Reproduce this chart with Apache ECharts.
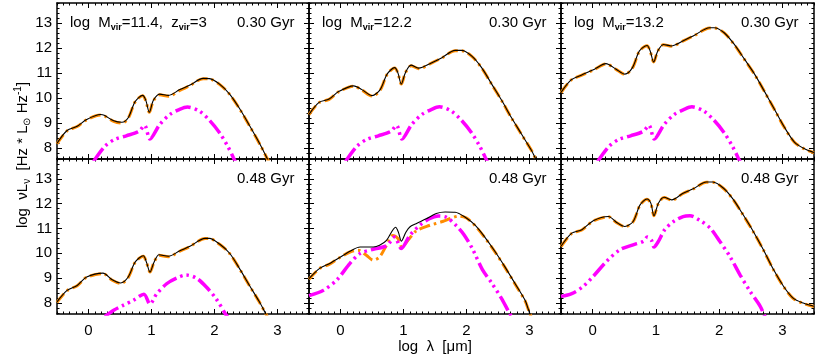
<!DOCTYPE html>
<html><head><meta charset="utf-8">
<script src="https://cdn.jsdelivr.net/npm/echarts@6/dist/echarts.min.js"></script>
<style>html,body{margin:0;padding:0;background:#fff}#c{width:830px;height:356px}</style>
</head><body><div id="c"></div>
<script>
// ---------- tick labels ----------
const xMajorTicks = [0, 1, 2, 3];
const yMajorTicks = [8, 9, 10, 11, 12, 13];
const xRange = [-0.5, 3.5];
const yRange = [7.55, 13.8];

// ---------- panel texts ----------
const panelMass = ['11.4', '12.2', '13.2', null, null, null];
const panelAge = ['0.30 Gyr', '0.30 Gyr', '0.30 Gyr', '0.48 Gyr', '0.48 Gyr', '0.48 Gyr'];

// ---------- panel 1 (top left) ----------
const p1TotalX = [-0.5, -0.34, -0.18, -0.03, 0.19, 0.25, 0.40, 0.53, 0.63, 0.74, 0.86, 0.91, 0.965, 1.03, 1.13, 1.27, 1.45, 1.61, 1.82, 1.92, 2.08, 2.24, 2.40, 2.56, 2.72, 2.84, 2.90];
const p1TotalY = [8.18, 8.69, 8.86, 9.13, 9.33, 9.30, 9.08, 9.02, 9.20, 9.85, 10.10, 9.90, 9.42, 9.90, 10.15, 10.10, 10.33, 10.51, 10.78, 10.77, 10.55, 10.15, 9.56, 8.87, 8.15, 7.55, 7.25];
const p1OrangeY = [8.16, 8.68, 8.85, 9.12, 9.31, 9.28, 9.06, 8.99, 9.18, 9.84, 10.08, 9.88, 9.42, 9.88, 10.12, 10.06, 10.30, 10.49, 10.77, 10.76, 10.54, 10.14, 9.55, 8.86, 8.14, 7.55, 7.25];
const p1MagentaX = [0.08, 0.26, 0.42, 0.60, 0.80, 0.89, 0.975, 1.13, 1.29, 1.44, 1.57, 1.76, 1.92, 2.08, 2.21, 2.30, 2.36];
const p1MagentaY = [7.45, 8.06, 8.34, 8.48, 8.66, 8.90, 8.35, 8.93, 9.33, 9.53, 9.63, 9.47, 9.10, 8.60, 8.06, 7.60, 7.30];

// ---------- panel 2 (top middle) ----------
const p2TotalX = [-0.5, -0.34, -0.18, -0.03, 0.21, 0.34, 0.50, 0.63, 0.74, 0.86, 0.91, 0.965, 1.03, 1.12, 1.24, 1.45, 1.61, 1.82, 1.92, 2.08, 2.24, 2.40, 2.56, 2.71, 2.87, 3.03, 3.10, 3.16];
const p2TotalY = [9.34, 9.82, 9.95, 10.25, 10.48, 10.33, 10.09, 10.33, 10.95, 11.21, 11.01, 10.55, 11.01, 11.31, 11.19, 11.41, 11.61, 11.90, 11.90, 11.68, 11.21, 10.55, 9.89, 9.22, 8.56, 7.90, 7.55, 7.30];
const p2OrangeY = [9.33, 9.81, 9.94, 10.24, 10.47, 10.31, 10.07, 10.31, 10.94, 11.20, 11.00, 10.55, 11.00, 11.29, 11.17, 11.40, 11.60, 11.89, 11.89, 11.67, 11.20, 10.54, 9.88, 9.21, 8.55, 7.90, 7.55, 7.30];
const p2MagentaX = [0.08, 0.26, 0.42, 0.60, 0.80, 0.89, 0.975, 1.13, 1.29, 1.44, 1.57, 1.76, 1.92, 2.08, 2.21, 2.30, 2.36];
const p2MagentaY = [7.45, 8.06, 8.34, 8.48, 8.66, 8.90, 8.35, 8.93, 9.33, 9.53, 9.64, 9.47, 9.10, 8.60, 8.06, 7.60, 7.30];

// ---------- panel 3 (top right) ----------
const p3TotalX = [-0.5, -0.34, -0.18, 0.03, 0.21, 0.37, 0.51, 0.63, 0.74, 0.86, 0.91, 0.965, 1.03, 1.12, 1.24, 1.45, 1.61, 1.85, 1.92, 2.08, 2.24, 2.40, 2.56, 2.71, 2.87, 3.03, 3.19, 3.35, 3.5];
const p3TotalY = [10.22, 10.72, 10.91, 11.15, 11.37, 11.15, 10.95, 11.21, 11.88, 12.10, 11.88, 11.44, 11.88, 12.14, 12.08, 12.31, 12.51, 12.81, 12.81, 12.61, 12.14, 11.55, 10.95, 10.29, 9.56, 8.83, 8.23, 7.96, 7.81];
const p3OrangeY = [10.21, 10.71, 10.90, 11.14, 11.36, 11.14, 10.94, 11.20, 11.87, 12.09, 11.87, 11.44, 11.87, 12.13, 12.07, 12.30, 12.50, 12.80, 12.80, 12.60, 12.13, 11.54, 10.94, 10.28, 9.55, 8.82, 8.22, 7.95, 7.80];
const p3MagentaX = [0.08, 0.26, 0.42, 0.60, 0.80, 0.89, 0.975, 1.13, 1.29, 1.44, 1.57, 1.76, 1.92, 2.08, 2.21, 2.30, 2.36];
const p3MagentaY = [7.45, 8.06, 8.34, 8.48, 8.66, 8.90, 8.35, 8.93, 9.33, 9.53, 9.64, 9.47, 9.10, 8.60, 8.06, 7.60, 7.30];

// ---------- panel 4 (bottom left) ----------
const p4TotalX = [-0.5, -0.34, -0.18, -0.03, 0.23, 0.37, 0.51, 0.63, 0.74, 0.87, 0.92, 0.976, 1.04, 1.12, 1.27, 1.45, 1.61, 1.85, 1.92, 2.08, 2.24, 2.40, 2.56, 2.71, 2.82, 2.88];
const p4TotalY = [8.04, 8.50, 8.70, 9.04, 9.20, 8.94, 8.80, 9.04, 9.64, 9.90, 9.64, 9.24, 9.64, 9.94, 9.88, 10.10, 10.28, 10.60, 10.60, 10.37, 10.00, 9.37, 8.68, 8.05, 7.53, 7.25];
const p4OrangeY = [8.02, 8.49, 8.69, 9.03, 9.18, 8.92, 8.78, 9.02, 9.63, 9.88, 9.63, 9.24, 9.63, 9.92, 9.86, 10.08, 10.27, 10.59, 10.59, 10.36, 9.99, 9.36, 8.67, 8.04, 7.53, 7.25];
const p4MagentaX = [0.26, 0.40, 0.55, 0.71, 0.88, 0.975, 1.08, 1.24, 1.40, 1.55, 1.71, 1.87, 2.03, 2.18, 2.25];
const p4MagentaY = [7.45, 7.70, 7.90, 8.10, 8.35, 7.95, 8.35, 8.77, 9.00, 9.12, 9.00, 8.64, 8.15, 7.53, 7.30];

// ---------- panel 5 (bottom middle) ----------
const p5TotalX = [-0.5, -0.33, -0.17, 0.02, 0.18, 0.31, 0.52, 0.62, 0.73, 0.875, 0.92, 0.965, 1.04, 1.10, 1.20, 1.36, 1.52, 1.66, 1.82, 1.98, 2.14, 2.29, 2.45, 2.61, 2.77, 2.93, 3.0, 3.05];
const p5TotalY = [8.98, 9.39, 9.59, 9.88, 10.12, 10.25, 10.25, 10.32, 10.52, 11.05, 10.84, 10.49, 10.86, 11.06, 11.19, 11.39, 11.60, 11.66, 11.65, 11.45, 11.12, 10.65, 10.08, 9.45, 8.78, 8.10, 7.60, 7.30];
const p5OrangeX = [-0.5, -0.33, -0.18, -0.03, 0.15, 0.28, 0.41, 0.52, 0.62, 0.73, 0.83, 0.91, 0.975, 1.07, 1.20, 1.41, 1.62, 1.76, 1.88, 2.00, 2.14, 2.29, 2.45, 2.61, 2.77, 2.93, 3.0, 3.05];
const p5OrangeY = [8.95, 9.39, 9.55, 9.80, 10.05, 10.12, 9.92, 9.72, 9.85, 10.32, 10.72, 10.60, 10.25, 10.52, 10.90, 11.12, 11.28, 11.42, 11.50, 11.42, 11.10, 10.63, 10.06, 9.43, 8.76, 8.08, 7.60, 7.30];
const p5MagentaX = [-0.5, -0.27, -0.06, 0.15, 0.31, 0.52, 0.73, 0.86, 0.965, 1.10, 1.255, 1.41, 1.55, 1.68, 1.835, 1.96, 2.10, 2.25, 2.40, 2.55, 2.69, 2.75];
const p5MagentaY = [8.29, 8.51, 8.92, 9.59, 9.99, 10.16, 10.30, 10.65, 10.19, 10.72, 11.12, 11.39, 11.50, 11.45, 11.12, 10.75, 10.15, 9.35, 8.80, 8.20, 7.55, 7.30];

// ---------- panel 6 (bottom right) ----------
const p6TotalX = [-0.5, -0.33, -0.17, 0.01, 0.25, 0.38, 0.51, 0.64, 0.75, 0.86, 0.92, 0.97, 1.04, 1.13, 1.25, 1.43, 1.59, 1.80, 1.90, 2.07, 2.22, 2.38, 2.54, 2.70, 2.86, 3.02, 3.17, 3.33, 3.5];
const p6TotalY = [10.28, 10.81, 10.95, 11.31, 11.48, 11.24, 11.08, 11.28, 11.95, 12.19, 12.02, 11.51, 12.02, 12.26, 12.15, 12.42, 12.60, 12.87, 12.87, 12.62, 12.18, 11.55, 10.88, 10.14, 9.34, 8.66, 8.19, 7.99, 7.86];
const p6OrangeY = [10.27, 10.80, 10.94, 11.30, 11.47, 11.23, 11.07, 11.27, 11.94, 12.18, 12.01, 11.51, 12.01, 12.25, 12.14, 12.41, 12.59, 12.86, 12.86, 12.61, 12.17, 11.54, 10.87, 10.13, 9.33, 8.65, 8.18, 7.98, 7.85];
const p6MagentaX = [-0.5, -0.33, -0.15, 0.01, 0.22, 0.43, 0.64, 0.80, 0.865, 0.93, 0.97, 1.04, 1.14, 1.28, 1.43, 1.54, 1.70, 1.86, 2.01, 2.17, 2.33, 2.49, 2.65, 2.71, 2.76];
const p6MagentaY = [8.26, 8.37, 8.66, 9.07, 9.67, 10.14, 10.34, 10.48, 10.65, 10.52, 10.25, 10.48, 10.95, 11.28, 11.48, 11.51, 11.32, 11.01, 10.48, 9.87, 9.13, 8.46, 7.86, 7.52, 7.30];

const panels = [
  { total: [p1TotalX, p1TotalY], orange: [p1TotalX, p1OrangeY], magenta: [p1MagentaX, p1MagentaY] },
  { total: [p2TotalX, p2TotalY], orange: [p2TotalX, p2OrangeY], magenta: [p2MagentaX, p2MagentaY] },
  { total: [p3TotalX, p3TotalY], orange: [p3TotalX, p3OrangeY], magenta: [p3MagentaX, p3MagentaY] },
  { total: [p4TotalX, p4TotalY], orange: [p4TotalX, p4OrangeY], magenta: [p4MagentaX, p4MagentaY] },
  { total: [p5TotalX, p5TotalY], orange: [p5OrangeX, p5OrangeY], magenta: [p5MagentaX, p5MagentaY] },
  { total: [p6TotalX, p6TotalY], orange: [p6TotalX, p6OrangeY], magenta: [p6MagentaX, p6MagentaY] }
];

// ---------- layout / styles ----------
const FONT = 'Liberation Sans';
const gridPos = [[57,3,252,156],[309,3,252,156],[561,3,253,156],[57,159,252,155],[309,159,252,155],[561,159,253,155]];
const xMinorTicks = []; for (let i = 0; i <= 40; i++) xMinorTicks.push(Math.round((-0.5 + i * 0.1) * 10) / 10);
const yMinorTicks = []; for (let i = 0; i <= 31; i++) yMinorTicks.push(Math.round((7.6 + i * 0.2) * 10) / 10);

const zip = (xs, ys) => xs.map((x, k) => [x, ys[k]]);

const grids = [], xAxes = [], yAxes = [], series = [], graphics = [];
gridPos.forEach((g, i) => {
  const col = i % 3, row = Math.floor(i / 3);
  grids.push({ left: g[0], top: g[1], width: g[2], height: g[3], containLabel: false });
  const lab = { fontSize: 15, fontFamily: FONT, color: '#000' };
  const mkX = (pos, major, showLab) => ({
    type: 'value', gridIndex: i, position: pos, min: xRange[0], max: xRange[1],
    axisLine: { show: major, onZero: false, lineStyle: { color: '#000', width: 1.5 } },
    axisTick: { show: true, inside: true, length: major ? 5 : 2.5, customValues: major ? xMajorTicks : xMinorTicks, lineStyle: { color: '#000', width: 1 } },
    axisLabel: showLab ? Object.assign({ show: true, margin: 9, customValues: xMajorTicks }, lab) : { show: false },
    splitLine: { show: false }
  });
  const mkY = (pos, major, showLab) => ({
    type: 'value', gridIndex: i, position: pos, min: yRange[0], max: yRange[1],
    axisLine: { show: major, onZero: false, lineStyle: { color: '#000', width: 1.5 } },
    axisTick: { show: true, inside: true, length: major ? 5 : 2.5, customValues: major ? yMajorTicks : yMinorTicks, lineStyle: { color: '#000', width: 1 } },
    axisLabel: showLab ? Object.assign({ show: true, margin: 5, customValues: yMajorTicks }, lab) : { show: false },
    splitLine: { show: false }
  });
  xAxes.push(mkX('bottom', true, row === 1), mkX('bottom', false, false), mkX('top', true, false), mkX('top', false, false));
  yAxes.push(mkY('left', true, col === 0), mkY('left', false, false), mkY('right', true, false), mkY('right', false, false));

  const p = panels[i];
  const base = { type: 'line', xAxisIndex: 4 * i, yAxisIndex: 4 * i, symbol: 'none', showSymbol: false, smooth: 0.3, silent: true, clip: true };
  series.push(Object.assign({}, base, { data: zip(p.orange[0], p.orange[1]), z: 2,
    lineStyle: { color: '#ff8c00', width: 3, type: [11, 4, 2.5, 4], cap: 'butt' } }));
  series.push(Object.assign({}, base, { data: zip(p.magenta[0], p.magenta[1]), z: 3,
    lineStyle: { color: '#ff00ff', width: 3.5, type: [16, 4, 2.5, 4, 2.5, 4, 2.5, 4], cap: 'butt' } }));
  series.push(Object.assign({}, base, { data: zip(p.total[0], p.total[1]), z: 4,
    lineStyle: { color: '#000', width: 1.1 } }));

  // panel annotations
  const yText = row === 0 ? 23 : 179;
  if (panelMass[i]) {
    const txt = i === 0 ? '{a|log  M}{s|vir}{a|=' + panelMass[i] + ',  z}{s|vir}{a|=3}' : '{a|log  M}{s|vir}{a|=' + panelMass[i] + '}';
    graphics.push({ type: 'text', x: g[0] + 13, y: yText, z: 10, style: {
      text: txt, align: 'left', verticalAlign: 'middle', fill: '#000', fontSize: 15, fontFamily: FONT,
      rich: { a: { fontSize: 15, fontFamily: FONT, fill: '#000' }, s: { fontSize: 9, fontFamily: FONT, fontWeight: 'bold', fill: '#000', padding: [9, 0, 0, 0] } } } });
  }
  graphics.push({ type: 'text', x: g[0] + 237.5, y: yText, z: 10, style: {
    text: panelAge[i], align: 'right', verticalAlign: 'middle', fill: '#000', fontSize: 15, fontFamily: FONT } });
});

// axis titles
graphics.push({ type: 'text', x: 435, y: 347, z: 10, style: {
  text: 'log  λ  [μm]', align: 'center', verticalAlign: 'middle', fill: '#000', fontSize: 15, fontFamily: FONT } });
graphics.push({ type: 'text', x: 23, y: 155, rotation: Math.PI / 2, z: 10, style: {
  text: '{a|log  νL}{s|ν}{a|  [Hz * L}{s|⊙}{a| Hz}{p|-1}{a|]}', align: 'center', verticalAlign: 'middle', fill: '#000', fontSize: 15, fontFamily: FONT,
  rich: { a: { fontSize: 15, fontFamily: FONT, fill: '#000' },
          s: { fontSize: 10, fontFamily: FONT, fill: '#000', padding: [9, 0, 0, 0] },
          p: { fontSize: 10, fontFamily: FONT, fill: '#000', padding: [0, 0, 9, 0] } } } });

const chart = echarts.init(document.getElementById('c'), null, { renderer: 'canvas' });
chart.setOption({
  animation: false,
  backgroundColor: '#fff',
  grid: grids, xAxis: xAxes, yAxis: yAxes, series: series, graphic: graphics
});
</script>
</body></html>
